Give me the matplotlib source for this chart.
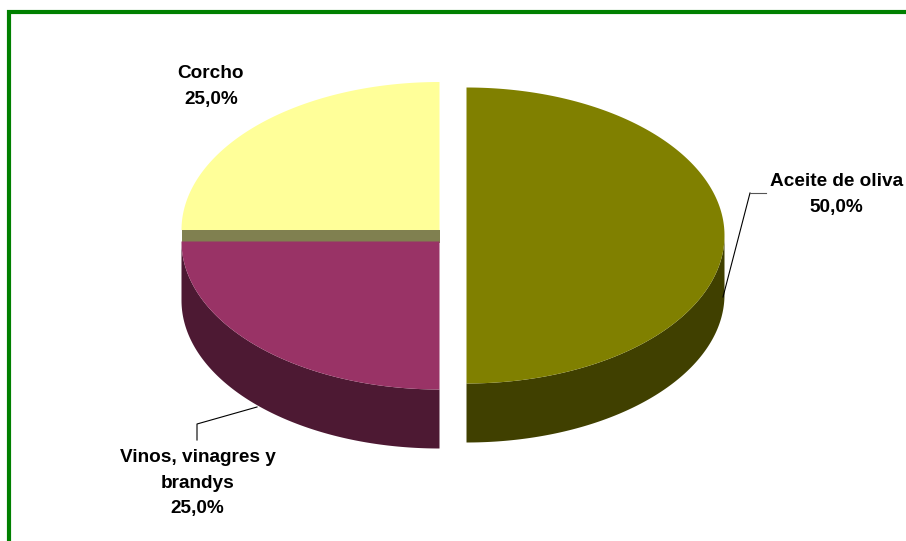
import numpy as np
import matplotlib
matplotlib.use('Agg')
import matplotlib.pyplot as plt

categories = ['Aceite de oliva', 'Vinos, vinagres y\nbrandys', 'Corcho']
values = [50.0, 25.0, 25.0]
top_colors = ['#808000', '#993366', '#FFFF99']
side_colors = ['#404000', '#4D1933', '#808050']

# pie geometry, in pixels of the picture
centers = [(466.5, 235.5), (439.5, 241.5), (439.5, 230.0)]
rx = 258.0
ry = 148.0
depth = 59.0
label_pos = [(836.5, 194.5), (197.5, 483), (211, 86.5)]

plt.rcParams['font.family'] = ['Liberation Sans', 'DejaVu Sans']

fig = plt.figure(figsize=(9.06, 5.41), dpi=100)
ax = fig.add_axes([0, 0, 1, 1])
ax.set_xlim(0, 906)
ax.set_ylim(541, 0)
ax.axis('off')


def arc(center, a0, a1):
    t = np.radians(np.linspace(a0, a1, 200))
    return center[0] + rx * np.cos(t), center[1] - ry * np.sin(t)


# slices run clockwise from 12 o'clock, back slice goes first
angles = 90 - np.cumsum([0] + values) * 3.6
for i in [2, 0, 1]:
    a0, a1 = angles[i], angles[i + 1]
    c = centers[i]
    x, y = arc(c, a0, a1)

    if i != 2:
        # front wall, only the lower half of the rim shows
        wx, wy = arc(c, np.clip(a0, -180, 0), np.clip(a1, -180, 0))
        ax.fill(np.r_[wx, wx[::-1]], np.r_[wy, wy[::-1] + depth],
                color=side_colors[i], lw=0)
    else:
        # cut face of the corcho slice, only the strip above the next slice shows
        bottom = centers[1][1] + 1
        ax.fill([x[0], c[0], c[0], x[0]], [c[1], c[1], bottom, bottom],
                color=side_colors[i], lw=0)

    ax.fill(np.r_[c[0], x], np.r_[c[1], y], color=top_colors[i], lw=0)

# leader lines
ax.plot([723, 750], [297, 193], color='black', lw=0.8)
ax.plot([750, 766], [193, 193], color='#555555', lw=0.8)
ax.plot([257, 197, 197], [407, 424, 440], color='black', lw=0.8)

for name, v, pos in zip(categories, values, label_pos):
    txt = name + '\n' + ('%.1f%%' % v).replace('.', ',')
    ax.text(pos[0], pos[1], txt, ha='center', va='center', ma='center',
            fontsize=13.7, fontweight='bold', color='black', linespacing=1.62)

# green frame, open on the right and at the bottom
ax.plot([9, 9, 906], [541, 12, 12], color='#008000', lw=3.0,
        solid_joinstyle='miter', solid_capstyle='butt')

fig.savefig('out.png', dpi=100)
